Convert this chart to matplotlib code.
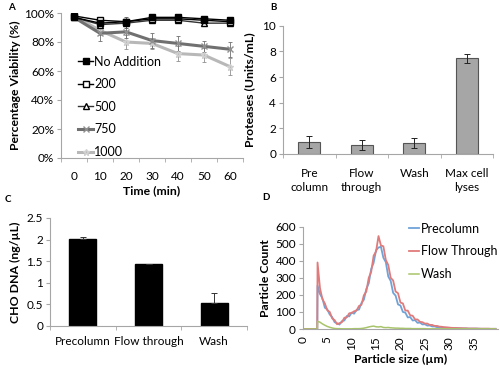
import numpy as np
import matplotlib
matplotlib.use("Agg")
import matplotlib.pyplot as plt
from matplotlib.ticker import FixedLocator, PercentFormatter

plt.rcParams['font.family'] = ['Lato', 'DejaVu Sans']

# ---------------- data ----------------
# Panel A
times = ['0', '10', '20', '30', '40', '50', '60']
no_add = [0.97, 0.93, 0.94, 0.97, 0.97, 0.96, 0.95]
no_add_err = [0.02, 0.02, 0.02, 0.02, 0.02, 0.02, 0.02]
c200 = [0.98, 0.95, 0.94, 0.96, 0.96, 0.95, 0.94]
c200_err = [0.02, 0.02, 0.03, 0.02, 0.02, 0.03, 0.03]
c500 = [0.97, 0.92, 0.93, 0.95, 0.95, 0.93, 0.93]
c500_err = [0.02, 0.02, 0.03, 0.02, 0.02, 0.02, 0.02]
c750 = [0.97, 0.86, 0.87, 0.81, 0.79, 0.77, 0.75]
c750_err = [0.02, 0.05, 0.04, 0.05, 0.05, 0.04, 0.05]
c1000 = [0.98, 0.88, 0.80, 0.79, 0.72, 0.71, 0.63]
c1000_err = [0.02, 0.03, 0.05, 0.04, 0.05, 0.05, 0.06]
series_labels = ['No Addition', '200', '500', '750', '1000']

# Panel B
b_cats = ['Pre\ncolumn', 'Flow\nthrough', 'Wash', 'Max cell\nlyses']
b_vals = [0.92, 0.72, 0.85, 7.45]
b_err = [0.45, 0.4, 0.4, 0.38]

# Panel C
c_cats = ['Precolumn', 'Flow through', 'Wash']
c_vals = [2.02, 1.43, 0.54]
c_err_up = [0.03, 0.005, 0.23]

# Panel D (particle size in um)
sizes = [0.0, 0.5, 1.0, 1.5, 2.0, 2.95, 3.0, 3.5, 4.0, 4.5, 5.0, 5.5, 6.0, 6.5, 7.0, 7.5,
         8.0, 8.5, 9.0, 9.5, 10.0, 10.5, 11.0, 11.5, 12.0, 12.5, 13.0, 13.5, 14.0, 14.5,
         15.0, 15.5, 16.0, 16.5, 17.0, 17.5, 18.0, 18.5, 19.0, 19.5, 20.0, 20.5, 21.0,
         21.5, 22.0, 22.5, 23.0, 23.5, 24.0, 24.5, 25.0, 25.5, 26.0, 26.5, 27.0, 27.5,
         28.0, 28.5, 29.0, 29.5, 30.0, 30.5, 31.0, 31.5, 32.0, 32.5, 33.0, 33.5, 34.0,
         34.5, 35.0, 35.5, 36.0, 36.5, 37.0, 37.5, 38.0, 38.5, 39.0, 39.5]
precolumn = [0, 0, 0, 0, 0, 0, 255, 205, 180, 125, 115, 85, 70, 40, 34, 26,
             46, 50, 76, 74, 96, 90, 112, 114, 152, 172, 235, 268, 352, 388,
             462, 478, 482, 418, 392, 308, 282, 212, 196, 144, 138, 100, 96,
             68, 70, 50, 52, 36, 38, 27, 28, 20, 21, 15, 15, 11,
             11, 8, 9, 6, 7, 5, 5, 4, 4, 3, 3, 3, 2,
             2, 2, 2, 2, 1, 1, 1, 1, 1, 1, 1]
flow_through = [0, 0, 0, 0, 0, 0, 390, 240, 175, 150, 110, 100, 62, 52, 28, 34,
                40, 66, 68, 92, 94, 104, 108, 135, 142, 198, 220, 300, 335, 430,
                455, 545, 490, 485, 405, 375, 300, 285, 220, 210, 155, 150, 108,
                108, 80, 78, 56, 56, 42, 40, 32, 32, 24, 24, 18, 18,
                14, 13, 10, 10, 8, 7, 6, 6, 5, 5, 4, 4, 3,
                3, 3, 3, 2, 2, 2, 2, 2, 1, 1, 1]
wash = [0, 0, 0, 0, 0, 0, 45, 40, 30, 22, 15, 10, 6, 3, 2, 2,
        1, 1, 1, 1, 1, 2, 2, 2, 3, 5, 8, 12, 15, 17,
        13, 12, 14, 9, 8, 9, 7, 6, 5, 5, 4, 4, 3,
        3, 3, 2, 2, 2, 2, 2, 2, 1, 1, 1, 1, 1,
        1, 1, 1, 1, 1, 1, 1, 1, 1, 1, 1, 1, 1,
        1, 1, 1, 1, 1, 1, 1, 1, 1, 1, 1]

# ---------------- figure ----------------
fig = plt.figure(figsize=(5.0, 3.68), dpi=100)
W, H = 500.0, 368.0

def add_ax(x0, x1, ytop, ybot):
    return fig.add_axes([x0 / W, 1 - ybot / H, (x1 - x0) / W, (ybot - ytop) / H])

spine_c = '#a6a6a6'
TFS = 8.5
LFS = 8.8

def style(ax, cat_n=None, xpad=7):
    for s in ['top', 'right']:
        ax.spines[s].set_visible(False)
    for s in ['left', 'bottom']:
        ax.spines[s].set_color(spine_c)
        ax.spines[s].set_linewidth(0.8)
    ax.tick_params(axis='y', direction='out', length=3, color=spine_c, labelsize=TFS, pad=2)
    if cat_n is not None:
        ax.set_xlim(-0.5, cat_n - 0.5)
        ax.set_xticks(range(cat_n))
        ax.xaxis.set_minor_locator(FixedLocator(np.arange(-0.5, cat_n, 1.0)))
        ax.tick_params(axis='x', which='major', length=0, labelsize=TFS, pad=xpad)
        ax.tick_params(axis='x', which='minor', direction='out', length=3, color=spine_c)

# Panel A
axA = add_ax(61, 243, 13, 158)
style(axA, 7, xpad=9)
x = np.arange(len(times))
ekw = dict(capsize=1.5, elinewidth=0.6, capthick=0.6)
axA.errorbar(x, c1000, yerr=c1000_err, color='#b8b8b8', lw=2.2, marker='*', ms=5,
             mec='#d0d0d0', ecolor='#909090', label=series_labels[4], zorder=2, **ekw)
axA.errorbar(x, c750, yerr=c750_err, color='#707070', lw=2.2, marker='x', ms=5,
             mec='#909090', ecolor='#707070', label=series_labels[3], zorder=2, **ekw)
axA.errorbar(x, c500, yerr=c500_err, color='#333333', lw=1.0, marker='^', ms=5,
             mfc='white', mec='black', ecolor='#555555', label=series_labels[2], zorder=3, **ekw)
axA.errorbar(x, c200, yerr=c200_err, color='black', lw=1.0, marker='s', ms=5,
             mfc='white', mec='black', ecolor='#555555', label=series_labels[1], zorder=3, **ekw)
axA.errorbar(x, no_add, yerr=no_add_err, color='black', lw=1.0, marker='s', ms=5,
             mfc='black', mec='black', ecolor='#555555', label=series_labels[0], zorder=3, **ekw)
axA.set_ylim(0, 1.0)
axA.set_yticks([0, 0.2, 0.4, 0.6, 0.8, 1.0])
axA.yaxis.set_major_formatter(PercentFormatter(1.0, decimals=0))
axA.set_xticklabels(times)
axA.set_xlabel('Time (min)', fontsize=LFS, fontweight='bold', labelpad=3)
axA.set_ylabel('Percentage Viability (%)', fontsize=LFS, fontweight='bold', labelpad=2)
h, l = axA.get_legend_handles_labels()
order = [4, 3, 2, 1, 0]
axA.legend([h[i][0] for i in order], [l[i] for i in order], loc='upper left',
           bbox_to_anchor=(0.06, 0.75), frameon=False, fontsize=9, handlelength=1.2,
           handletextpad=0.1, labelspacing=0.85, borderpad=0)
fig.text(8 / W, 1 - 7 / H, 'A', fontsize=7, fontweight='bold', va='center')

# Panel B
axB = add_ax(283, 493, 25.7, 154)
style(axB, 4, xpad=10)
axB.bar(range(4), b_vals, width=0.41, color='#a6a6a6', edgecolor='#555555', lw=0.8,
        yerr=b_err, error_kw=dict(capsize=2, elinewidth=0.7, capthick=0.7, ecolor='#222222'))
axB.set_ylim(0, 10)
axB.set_yticks([0, 2, 4, 6, 8, 10])
axB.set_xticklabels(b_cats, linespacing=1.3)
axB.set_ylabel('Proteases (Units/mL)', fontsize=LFS, fontweight='bold', labelpad=5)
fig.text(270 / W, 1 - 8 / H, 'B', fontsize=7, fontweight='bold', va='center')

# Panel C
axC = add_ax(50, 247, 218, 326)
style(axC, 3, xpad=7)
axC.bar(range(3), c_vals, width=0.41, color='black', edgecolor='black',
        yerr=[[0, 0, 0], c_err_up],
        error_kw=dict(capsize=2, elinewidth=0.7, capthick=0.7, ecolor='#333333'))
axC.set_ylim(0, 2.5)
axC.set_yticks([0, 0.5, 1, 1.5, 2, 2.5])
axC.set_yticklabels(['0', '0.5', '1', '1.5', '2', '2.5'])
axC.set_xticklabels(c_cats)
axC.set_ylabel('CHO DNA (ng/µL)', fontsize=LFS, fontweight='bold', labelpad=4)
fig.text(5 / W, 1 - 200 / H, 'C', fontsize=7, fontweight='bold', va='center')

# Panel D
axD = add_ax(302.9, 498, 226.7, 329)
style(axD)
axD.plot(sizes, precolumn, color='#6fa3d8', lw=1.3, label='Precolumn')
axD.plot(sizes, flow_through, color='#e07b7b', lw=1.3, label='Flow Through')
axD.plot(sizes, wash, color='#a8c46a', lw=1.1, label='Wash')
axD.set_xlim(0, 40)
axD.set_ylim(0, 600)
axD.set_yticks([0, 100, 200, 300, 400, 500, 600])
axD.set_xticks(range(0, 40, 5))
axD.tick_params(axis='x', length=0, labelsize=TFS, labelrotation=90, pad=5)
axD.set_xlabel('Particle size (µm)', fontsize=LFS, fontweight='bold', labelpad=3)
axD.set_ylabel('Particle Count', fontsize=LFS, fontweight='bold', labelpad=3)
axD.legend(loc='upper right', bbox_to_anchor=(1.03, 1.1), frameon=False, fontsize=9,
           handlelength=0.8, handletextpad=0.2, labelspacing=0.85, borderpad=0)
fig.text(262 / W, 1 - 197 / H, 'D', fontsize=7, fontweight='bold', va='center')

fig.savefig('out.png', dpi=100)
